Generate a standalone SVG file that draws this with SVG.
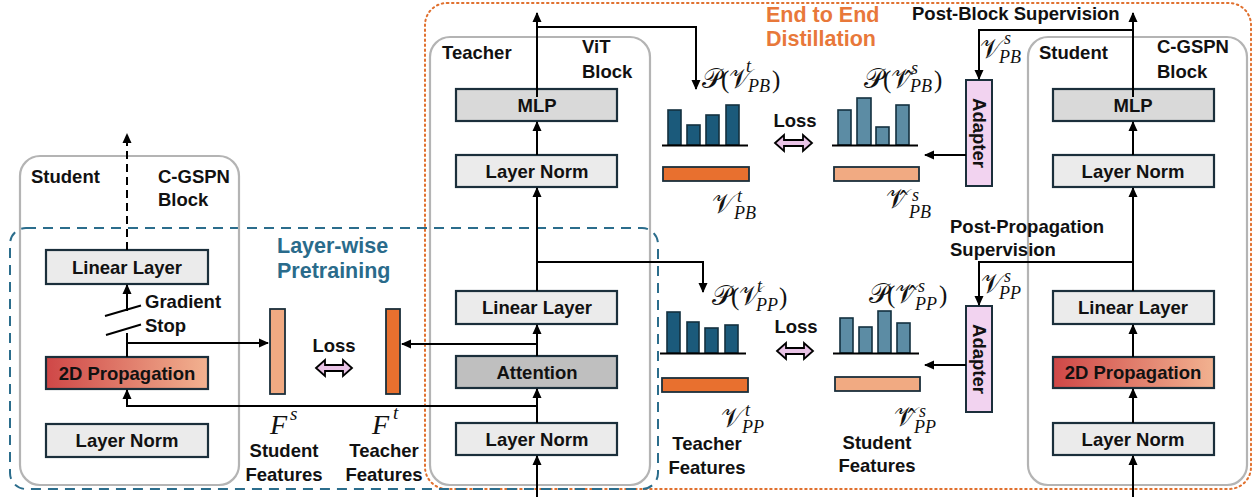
<svg xmlns="http://www.w3.org/2000/svg" width="1257" height="497" viewBox="0 0 1257 497">
  <defs>
    <marker id="ah" markerUnits="userSpaceOnUse" markerWidth="10" markerHeight="10" refX="9" refY="5" orient="auto">
      <path d="M0,0.5 L10,5 L0,9.5 z" fill="#000"/>
    </marker>
    <linearGradient id="prop" x1="0" y1="0" x2="1" y2="0">
      <stop offset="0" stop-color="#cf4747"/>
      <stop offset="1" stop-color="#f2b290"/>
    </linearGradient>
    <style>
      .box { stroke: #1b2f3b; stroke-width: 2.2; }
      .lt { fill: #ebebeb; }
      .mlp { fill: #d9d9d9; }
      .att { fill: #bfbfbf; }
      .gp { fill: url(#prop); }
      .blk { fill: none; stroke: #b4b4b4; stroke-width: 2.2; }
      .t { font-family: "Liberation Sans", Arial, sans-serif; font-weight: bold; font-size: 18.5px; fill: #111; }
      .c { text-anchor: middle; }
      .ln { stroke: #000; stroke-width: 2; fill: none; }
      .arr { marker-end: url(#ah); }
      .m { font-family: "Liberation Serif", "DejaVu Serif", serif; font-style: italic; font-size: 24px; fill: #111; }
      .pr { font-family: "Liberation Serif", "DejaVu Serif", serif; font-style: normal; font-size: 25px; fill: #111; }
      .sc { font-family: "DejaVu Sans", "DejaVu Serif", "Liberation Serif", serif; font-style: normal; font-size: 27px; fill: #111; }
      .ms { font-size: 18px; }
      .tb { fill: #1b5a7b; stroke: #13303f; stroke-width: 1.6; }
      .sb { fill: #5c8ca4; stroke: #13303f; stroke-width: 1.6; }
      .ob { fill: #e8702f; stroke: #1b2f3b; stroke-width: 1.8; }
      .pb { fill: #f1aa82; stroke: #1b2f3b; stroke-width: 1.8; }
      .ad { fill: #f2d3f0; stroke: #1b2f3b; stroke-width: 2; }
      .dbl { fill: #e9c3e6; stroke: #000; stroke-width: 1.8; stroke-linejoin: miter; }
    </style>
  </defs>

  <!-- region frames -->
  <g id="end-to-end-region">
    <rect x="425" y="3" width="826" height="486" rx="22" fill="none" stroke="#e0702e" stroke-width="2" stroke-dasharray="1.5 3.5" stroke-linecap="round"/>
    <text class="t" x="766" y="22" style="font-size:21.5px;fill:#e8783a">End to End</text>
    <text class="t" x="766" y="46" style="font-size:21.5px;fill:#e8783a">Distillation</text>
  </g>
  <g id="layerwise-region">
    <rect x="10" y="228" width="648" height="261" rx="16" fill="none" stroke="#2b6d8c" stroke-width="2" stroke-dasharray="10 7"/>
    <text class="t" x="277" y="253" style="font-size:21.5px;fill:#2a6b8b">Layer-wise</text>
    <text class="t" x="277" y="278" style="font-size:21.5px;fill:#2a6b8b">Pretraining</text>
  </g>

  <!-- left student block (layer-wise) -->
  <g id="student-left">
    <rect class="blk" x="20" y="156" width="219" height="329" rx="20"/>
    <text class="t" x="31" y="183">Student</text>
    <text class="t" x="158" y="183">C-GSPN</text>
    <text class="t" x="158" y="206">Block</text>
    <rect class="box lt" x="46" y="250" width="162" height="34"/>
    <text class="t c" x="127" y="273.5">Linear Layer</text>
    <rect class="box gp" x="46" y="357" width="162" height="32"/>
    <text class="t c" x="127" y="379.5">2D Propagation</text>
    <rect class="box lt" x="46" y="424" width="162" height="33"/>
    <text class="t c" x="127" y="446.5">Layer Norm</text>
    <text class="t" x="145" y="308">Gradient</text>
    <text class="t" x="145" y="332">Stop</text>
  </g>

  <!-- pretraining feature bars -->
  <g id="features-pretrain">
    <rect class="pb" x="270" y="309" width="15" height="85"/>
    <rect class="ob" x="386" y="309" width="14" height="85"/>
    <text class="t c" x="334" y="352">Loss</text>
    <polygon class="dbl" points="316,368 325,360 325,365 343,365 343,360 352,368 343,376 343,371 325,371 325,376"/>
    <text class="m" x="270" y="434" style="font-size:28px">F</text>
    <text class="m" x="290" y="420" style="font-size:19px">s</text>
    <text class="m" x="372" y="434" style="font-size:28px">F</text>
    <text class="m" x="393" y="419" style="font-size:19px">t</text>
    <text class="t c" x="284" y="457">Student</text>
    <text class="t c" x="284" y="481">Features</text>
    <text class="t c" x="384" y="457">Teacher</text>
    <text class="t c" x="384" y="481">Features</text>
  </g>

  <!-- teacher ViT block -->
  <g id="teacher">
    <rect class="blk" x="430" y="37" width="220" height="448" rx="20"/>
    <text class="t" x="442" y="59">Teacher</text>
    <text class="t" x="582" y="53">ViT</text>
    <text class="t" x="582" y="78">Block</text>
    <rect class="box mlp" x="456" y="89" width="161" height="32"/>
    <text class="t c" x="537" y="111.5">MLP</text>
    <rect class="box lt" x="456" y="155" width="161" height="32"/>
    <text class="t c" x="537" y="177.5">Layer Norm</text>
    <rect class="box lt" x="456" y="291" width="161" height="33"/>
    <text class="t c" x="537" y="314">Linear Layer</text>
    <rect class="box att" x="456" y="356" width="161" height="32"/>
    <text class="t c" x="537" y="378.5">Attention</text>
    <rect class="box lt" x="456" y="423" width="161" height="32"/>
    <text class="t c" x="537" y="445.5">Layer Norm</text>
  </g>

  <!-- right student C-GSPN block -->
  <g id="student-right">
    <rect class="blk" x="1028" y="37" width="219" height="448" rx="20"/>
    <text class="t" x="1039" y="59">Student</text>
    <text class="t" x="1157" y="53">C-GSPN</text>
    <text class="t" x="1157" y="78">Block</text>
    <rect class="box mlp" x="1053" y="89" width="161" height="32"/>
    <text class="t c" x="1133" y="111.5">MLP</text>
    <rect class="box lt" x="1053" y="155" width="161" height="32"/>
    <text class="t c" x="1133" y="177.5">Layer Norm</text>
    <rect class="box lt" x="1053" y="291" width="161" height="33"/>
    <text class="t c" x="1133" y="314">Linear Layer</text>
    <rect class="box gp" x="1053" y="357" width="161" height="31"/>
    <text class="t c" x="1133" y="379">2D Propagation</text>
    <rect class="box lt" x="1053" y="423" width="161" height="32"/>
    <text class="t c" x="1133" y="445.5">Layer Norm</text>
  </g>

  <!-- adapters -->
  <g id="adapter-pb">
    <rect class="ad" x="966" y="80" width="26" height="106"/>
    <text class="t c" transform="translate(979 133) rotate(90)" y="6.5">Adapter</text>
  </g>
  <g id="adapter-pp">
    <rect class="ad" x="966" y="306" width="26" height="106"/>
    <text class="t c" transform="translate(979 359) rotate(90)" y="6.5">Adapter</text>
  </g>

  <!-- post-block distributions -->
  <g id="dist-pb">
    <rect class="tb" x="668" y="110" width="13" height="35"/>
    <rect class="tb" x="687" y="125" width="13" height="20"/>
    <rect class="tb" x="706" y="115" width="13" height="30"/>
    <rect class="tb" x="726" y="105" width="13" height="40"/>
    <line x1="662" y1="145.5" x2="748" y2="145.5" stroke="#000" stroke-width="2"/>
    <rect class="ob" x="663" y="167" width="86" height="14"/>
    <rect class="sb" x="838" y="110" width="13" height="35"/>
    <rect class="sb" x="857" y="98" width="14" height="47"/>
    <rect class="sb" x="876" y="127" width="13" height="18"/>
    <rect class="sb" x="896" y="105" width="13" height="40"/>
    <line x1="832" y1="145.5" x2="918" y2="145.5" stroke="#000" stroke-width="2"/>
    <rect class="pb" x="834" y="167" width="85" height="14"/>
    <text class="t c" x="795" y="127">Loss</text>
    <polygon class="dbl" points="775,143 784,135 784,140 803,140 803,135 812,143 803,151 803,146 784,146 784,151"/>
    <!-- P(V^t_PB) -->
    <text class="sc" x="702" y="88">𝒫</text>
    <text class="pr" x="721" y="88">(</text>
    <text class="sc" x="729" y="88">𝒱</text>
    <text class="m ms" x="746" y="72">t</text>
    <text class="m ms" x="748" y="92">PB</text>
    <text class="pr" x="772" y="88">)</text>
    <!-- V^t_PB -->
    <text class="sc" x="712" y="213">𝒱</text>
    <text class="m ms" x="737" y="202">t</text>
    <text class="m ms" x="734" y="219">PB</text>
    <!-- P(V^s_PB hat) -->
    <text class="sc" x="864" y="88">𝒫</text>
    <text class="pr" x="883" y="88">(</text>
    <text class="sc" x="891" y="88">𝒱̂</text>
    <text class="m ms" x="911" y="74">s</text>
    <text class="m ms" x="910" y="92">PB</text>
    <text class="pr" x="934" y="88">)</text>
    <!-- V^s_PB hat -->
    <text class="sc" x="886" y="208">𝒱̂</text>
    <text class="m ms" x="912" y="201">s</text>
    <text class="m ms" x="909" y="218">PB</text>
  </g>

  <!-- post-propagation distributions -->
  <g id="dist-pp">
    <rect class="tb" x="667" y="312" width="13" height="41"/>
    <rect class="tb" x="687" y="322" width="12" height="31"/>
    <rect class="tb" x="705" y="328" width="13" height="25"/>
    <rect class="tb" x="725" y="325" width="13" height="28"/>
    <line x1="660" y1="353.5" x2="746" y2="353.5" stroke="#000" stroke-width="2"/>
    <rect class="ob" x="662" y="378" width="86" height="14"/>
    <rect class="sb" x="840" y="318" width="13" height="35"/>
    <rect class="sb" x="859" y="327" width="13" height="26"/>
    <rect class="sb" x="878" y="311" width="13" height="42"/>
    <rect class="sb" x="897" y="323" width="13" height="30"/>
    <line x1="833" y1="353.5" x2="919" y2="353.5" stroke="#000" stroke-width="2"/>
    <rect class="pb" x="835" y="377" width="85" height="14"/>
    <text class="t c" x="796" y="333">Loss</text>
    <polygon class="dbl" points="777,351 786,343 786,348 804,348 804,343 813,351 804,359 804,354 786,354 786,359"/>
    <!-- P(V^t_PP) -->
    <text class="sc" x="712" y="305">𝒫</text>
    <text class="pr" x="731" y="305">(</text>
    <text class="sc" x="739" y="305">𝒱</text>
    <text class="m ms" x="757" y="292">t</text>
    <text class="m ms" x="756" y="311">PP</text>
    <text class="pr" x="779" y="305">)</text>
    <!-- V^t_PP -->
    <text class="sc" x="721" y="427">𝒱</text>
    <text class="m ms" x="745" y="416">t</text>
    <text class="m ms" x="742" y="433">PP</text>
    <!-- P(V^s_PP hat) -->
    <text class="sc" x="869" y="303">𝒫</text>
    <text class="pr" x="887" y="303">(</text>
    <text class="sc" x="895" y="303">𝒱̂</text>
    <text class="m ms" x="918" y="292">s</text>
    <text class="m ms" x="915" y="310">PP</text>
    <text class="pr" x="939" y="303">)</text>
    <!-- V^s_PP hat -->
    <text class="sc" x="894" y="426">𝒱̂</text>
    <text class="m ms" x="919" y="417">s</text>
    <text class="m ms" x="914" y="433">PP</text>
    <text class="t c" x="707" y="450">Teacher</text>
    <text class="t c" x="707" y="474">Features</text>
    <text class="t c" x="877" y="449">Student</text>
    <text class="t c" x="877" y="472">Features</text>
  </g>

  <!-- supervision labels -->
  <g id="supervision-labels">
    <text class="t" x="912" y="20">Post-Block Supervision</text>
    <text class="sc" x="980" y="58">𝒱</text>
    <text class="m ms" x="1004" y="44">s</text>
    <text class="m ms" x="999" y="63">PB</text>
    <text class="t" x="950" y="233">Post-Propagation</text>
    <text class="t" x="950" y="256">Supervision</text>
    <text class="sc" x="981" y="293">𝒱</text>
    <text class="m ms" x="1004" y="282">s</text>
    <text class="m ms" x="999" y="299">PP</text>
  </g>

  <!-- connectors -->
  <g id="connectors">
    <!-- left student -->
    <path class="ln arr" d="M127,250 V134" stroke-dasharray="8 5"/>
    <path class="ln" d="M127,357 V333"/>
    <path class="ln arr" d="M127,311 V285"/>
    <path class="ln" d="M105,316 L141,305.5 M106,335 L141,324.5"/>
    <path class="ln arr" d="M127,343 H268"/>
    <path class="ln arr" d="M537,344 H402"/>
    <path class="ln arr" d="M537,406 H127 V390"/>
    <!-- teacher trunk -->
    <path class="ln arr" d="M537,497 V456"/>
    <path class="ln arr" d="M537,423 V389"/>
    <path class="ln arr" d="M537,356 V325"/>
    <path class="ln arr" d="M537,291 V188"/>
    <path class="ln arr" d="M537,262 H703 V292"/>
    <path class="ln arr" d="M537,155 V122"/>
    <path class="ln arr" d="M537,97 V13"/>
    <path class="ln arr" d="M537,27 H696 V89"/>
    <!-- right student trunk -->
    <path class="ln arr" d="M1133,497 V456"/>
    <path class="ln arr" d="M1133,423 V389"/>
    <path class="ln arr" d="M1133,357 V325"/>
    <path class="ln arr" d="M1133,291 V188"/>
    <path class="ln arr" d="M1133,262 H979 V305"/>
    <path class="ln arr" d="M1133,155 V122"/>
    <path class="ln arr" d="M1133,97 V13"/>
    <path class="ln arr" d="M1133,30 H979 V79"/>
    <!-- adapters to distributions -->
    <path class="ln arr" d="M966,155 H925"/>
    <path class="ln arr" d="M966,365 H925"/>
  </g>
</svg>
